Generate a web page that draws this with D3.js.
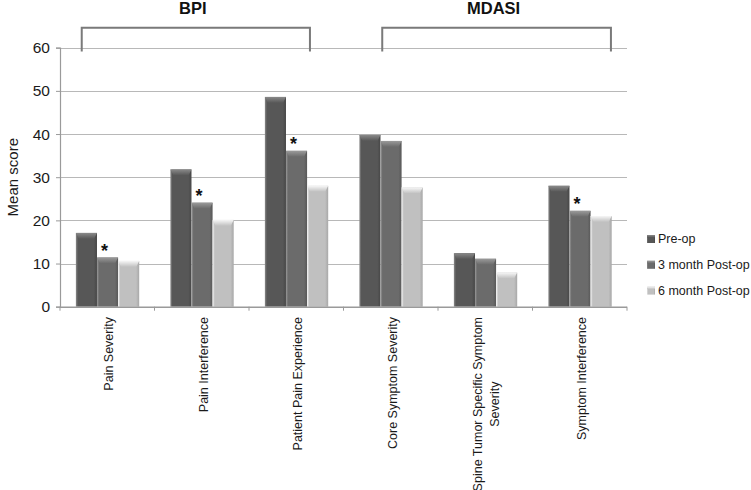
<!DOCTYPE html>
<html>
<head>
<meta charset="utf-8">
<script src="https://cdn.jsdelivr.net/npm/d3@7"></script>
<style>
  html, body { margin: 0; padding: 0; background: #fff; }
  svg { display: block; font-family: "Liberation Sans", Arial, sans-serif; }
</style>
</head>
<body>
<svg id="chart" width="751" height="490"></svg>
<script>
// ---- Data ----
const categories = [
  "Pain Severity",
  "Pain Interference",
  "Patient Pain Experience",
  "Core Symptom Severity",
  "Spine Tumor Specific Symptom Severity",
  "Symptom Interference"
];
const seriesNames = ["Pre-op", "3 month Post-op", "6 month Post-op"];
const preOp   = [17.1, 31.8, 48.6, 39.8, 12.4, 28.0];
const month3  = [11.4, 24.1, 36.1, 38.4, 11.1, 22.2];
const month6  = [10.6, 20.1, 28.0, 27.6, 7.9, 21.0];
const significant3m = [true, true, true, false, false, true];
const yTicks = [0, 10, 20, 30, 40, 50, 60];
const groupNames = ["BPI", "MDASI"];
const groupFrom = [0, 3];
const groupTo = [2, 5];

// styling / layout (not data)
const seriesValues = [preOp, month3, month6];
const baseColors = ["#575757", "#6b6b6b", "#c0c0c0"];
const edgeColors = ["#474747", "#585858", "#a8a8a8"];
const capColors  = ["#8a8a8a", "#9a9a9a", "#f6f6f6"];
const bracketInset = [[0.23, 0.645], [0.41, 0.83]];

const svg = d3.select("#chart");
const pLeft = 60, pRight = 627, pTop = 47.7, pBottom = 306.7;

const x0 = d3.scaleBand().domain(categories).range([pLeft, pRight]).padding(0);
const bw = x0.bandwidth();
const x1 = d3.scaleBand().domain(seriesNames).range([bw * 0.168, bw * 0.838]).padding(0);
const y = d3.scaleLinear().domain([0, 60]).range([pBottom, pTop]);

// gradients
const defs = svg.append("defs");
seriesNames.forEach((s, i) => {
  const g = defs.append("linearGradient").attr("id", "g" + i)
    .attr("x1", "0%").attr("x2", "100%").attr("y1", "0%").attr("y2", "0%");
  g.append("stop").attr("offset", "0%").attr("stop-color", capColors[i]);
  g.append("stop").attr("offset", "10%").attr("stop-color", baseColors[i]);
  g.append("stop").attr("offset", "85%").attr("stop-color", baseColors[i]);
  g.append("stop").attr("offset", "100%").attr("stop-color", edgeColors[i]);
  const c = defs.append("linearGradient").attr("id", "c" + i)
    .attr("x1", "0%").attr("x2", "0%").attr("y1", "0%").attr("y2", "100%");
  c.append("stop").attr("offset", "0%").attr("stop-color", capColors[i]);
  c.append("stop").attr("offset", "100%").attr("stop-color", baseColors[i]);
});

// gridlines
svg.append("g").selectAll("line").data(yTicks.filter(d => d > 0)).join("line")
  .attr("x1", pLeft).attr("x2", pRight)
  .attr("y1", d => Math.round(y(d)) + 0.5).attr("y2", d => Math.round(y(d)) + 0.5)
  .attr("stroke", "#b8b8b8").attr("stroke-width", 1.2);

// y axis
const yAxis = svg.append("g").attr("transform", `translate(${pLeft},0)`)
  .call(d3.axisLeft(y).tickValues(yTicks).tickSize(4).tickPadding(6));
yAxis.select(".domain").attr("stroke", "#9a9a9a").attr("stroke-width", 1.2);
yAxis.selectAll(".tick line").attr("stroke", "#9a9a9a");
yAxis.selectAll(".tick text").attr("font-size", "15.5px").attr("fill", "#1a1a1a")
  .attr("font-family", "Liberation Sans, Arial, sans-serif");

// y label
svg.append("text")
  .attr("transform", `translate(13,${(pTop + pBottom) / 2}) rotate(-90)`)
  .attr("text-anchor", "middle").attr("dy", "0.35em")
  .attr("font-size", "15px").attr("fill", "#1a1a1a")
  .text("Mean score");

// bars
const gCat = svg.append("g").selectAll("g").data(categories).join("g")
  .attr("transform", d => `translate(${x0(d)},0)`);

seriesNames.forEach((s, si) => {
  gCat.each(function(cat, ci) {
    const v = seriesValues[si][ci];
    const bx = x1(s), w = x1.bandwidth();
    const by = y(v), h = y(0) - y(v);
    const g = d3.select(this);
    g.append("rect").attr("x", bx).attr("y", by).attr("width", w).attr("height", h)
      .attr("fill", `url(#g${si})`);
    const capH = 6, ins = 3;
    g.append("path")
      .attr("d", `M${bx},${by}L${bx + w},${by}L${bx + w - ins},${by + capH}L${bx + ins},${by + capH}Z`)
      .attr("fill", `url(#c${si})`);
  });
});

// significance asterisks
gCat.each(function(cat, ci) {
  if (!significant3m[ci]) return;
  const s = seriesNames[1];
  d3.select(this).append("text")
    .attr("x", x1(s) + x1.bandwidth() / 2 - 3)
    .attr("y", y(month3[ci]) - 0.5)
    .attr("text-anchor", "middle")
    .attr("font-size", "18px").attr("font-weight", "bold").attr("fill", "#111")
    .text("*");
});

// x axis
const xAxisG = svg.append("g");
xAxisG.append("line").attr("x1", pLeft).attr("x2", pRight)
  .attr("y1", pBottom + 0.5).attr("y2", pBottom + 0.5)
  .attr("stroke", "#9a9a9a").attr("stroke-width", 1.5);
const boundaries = categories.map(c => x0(c)).concat([pRight]);
xAxisG.selectAll(".xt").data(boundaries).join("line").attr("class", "xt")
  .attr("x1", d => d).attr("x2", d => d)
  .attr("y1", pBottom).attr("y2", pBottom + 4)
  .attr("stroke", "#9a9a9a");

// category labels
function wrap(str, maxChars) {
  const words = str.split(" ");
  const lines = [];
  let cur = "";
  words.forEach(w => {
    if ((cur + " " + w).trim().length > maxChars && cur) { lines.push(cur); cur = w; }
    else cur = (cur + " " + w).trim();
  });
  if (cur) lines.push(cur);
  return lines;
}
const labelTop = 317;
categories.forEach(cat => {
  const cx = x0(cat) + bw / 2 + 1.5;
  const lines = wrap(cat, 30);
  if (lines.length === 1) {
    svg.append("text")
      .attr("transform", `translate(${cx},${labelTop}) rotate(-90)`)
      .attr("text-anchor", "end").attr("dy", "0.35em")
      .attr("font-size", "12.5px").attr("fill", "#1a1a1a")
      .text(cat);
  } else {
    const t = svg.append("text")
      .attr("font-size", "12.5px").attr("fill", "#1a1a1a")
      .attr("text-anchor", "middle");
    const tmp = t.append("tspan").text(lines[0]);
    const wlen = tmp.node().getComputedTextLength();
    tmp.remove();
    const lh = 17;
    const cy = labelTop + wlen / 2;
    t.attr("transform", `translate(${cx - 1},${cy}) rotate(-90)`);
    lines.forEach((ln, i) => {
      t.append("tspan").attr("x", 0)
        .attr("y", (i - (lines.length - 1) / 2) * lh)
        .attr("dy", "0.35em").text(ln);
    });
  }
});

// group brackets
groupNames.forEach((name, gi) => {
  const xa = x0(categories[groupFrom[gi]]) + bw * bracketInset[gi][0];
  const xb = x0(categories[groupTo[gi]]) + bw * bracketInset[gi][1];
  const yTopB = 27.7, yLeg = 51.5;
  svg.append("path")
    .attr("d", `M${xa},${yLeg}L${xa},${yTopB}L${xb},${yTopB}L${xb},${yLeg}`)
    .attr("fill", "none").attr("stroke", "#7a7a7a").attr("stroke-width", 2);
  svg.append("text")
    .attr("x", (xa + xb) / 2 - 3).attr("y", 14)
    .attr("text-anchor", "middle")
    .attr("font-size", "16.5px").attr("font-weight", "bold").attr("fill", "#111")
    .text(name);
});

// legend
const legend = svg.append("g").attr("transform", "translate(647,239)");
seriesNames.forEach((s, i) => {
  const row = legend.append("g").attr("transform", `translate(0,${i * 25.8})`);
  row.append("rect").attr("x", 0).attr("y", -4).attr("width", 8).attr("height", 8)
    .attr("fill", `url(#g${i})`);
  row.append("rect").attr("x", 0).attr("y", -4).attr("width", 8).attr("height", 2.5)
    .attr("fill", `url(#c${i})`);
  row.append("text").attr("x", 11).attr("y", 0).attr("dy", "0.35em")
    .attr("font-size", "12.5px").attr("fill", "#1a1a1a").text(s);
});
</script>
</body>
</html>
